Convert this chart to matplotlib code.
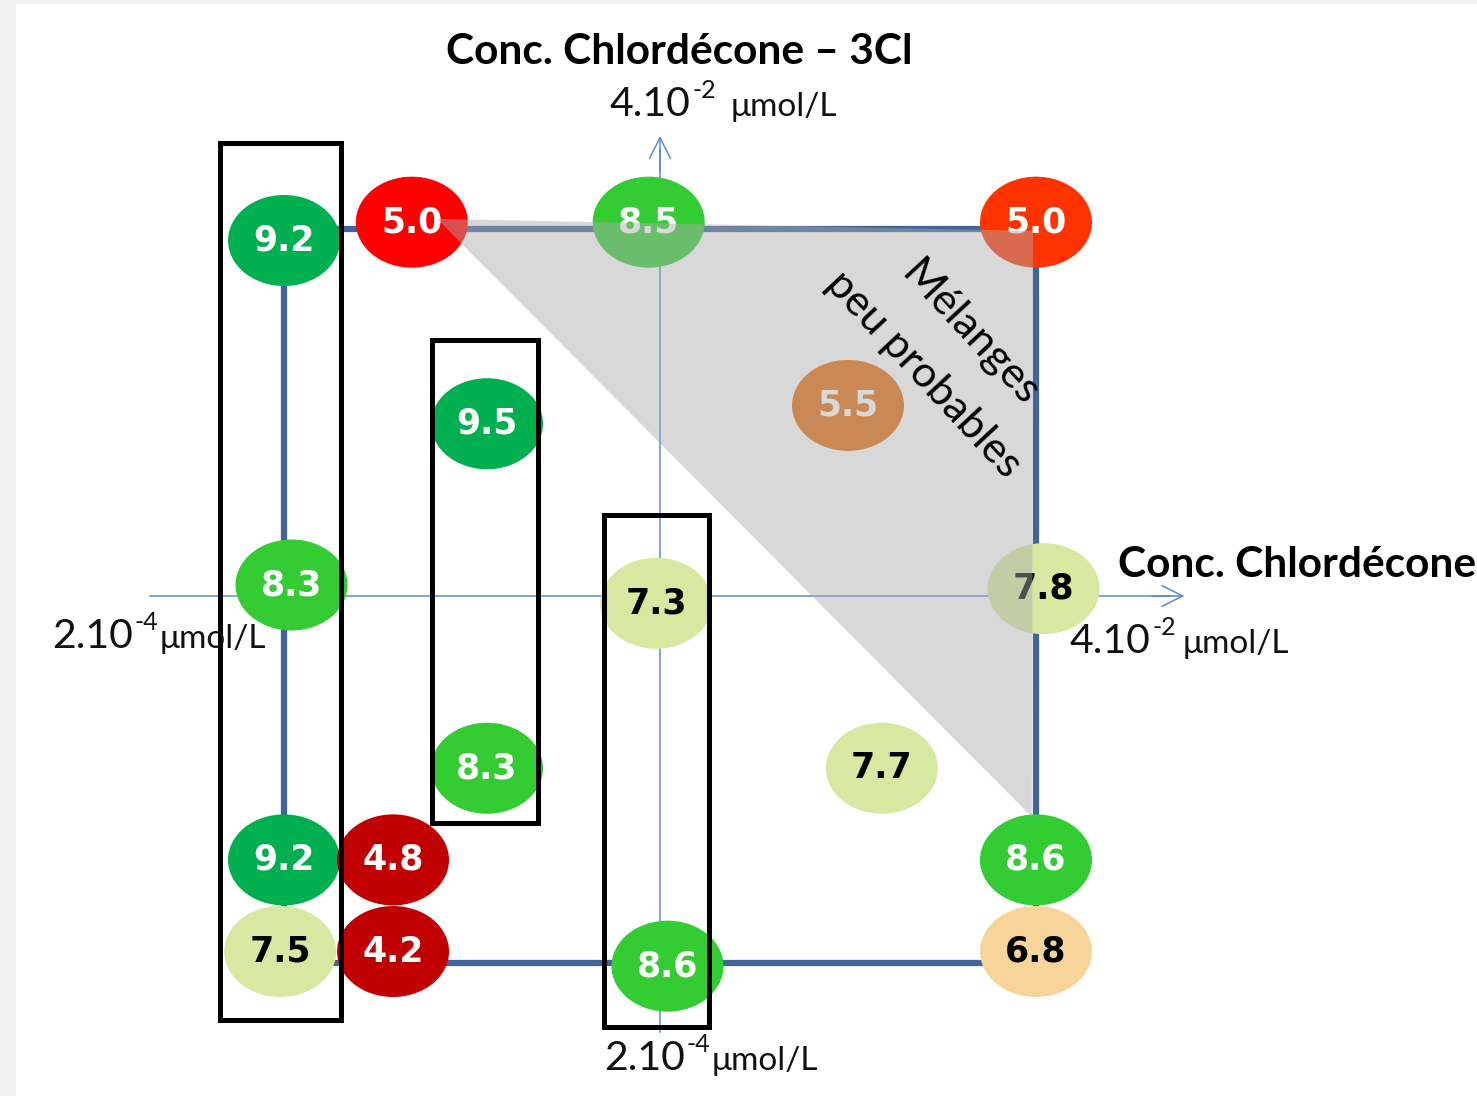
import matplotlib.pyplot as plt
from matplotlib.patches import Ellipse, Rectangle, Polygon

W, H = 1477, 1096

# design points, in the normalised concentration square (-1..1 on both axes)
values = [9.2, 5.0, 8.5, 5.0, 9.5, 5.5, 8.3, 7.3, 7.8, 8.3, 7.7, 9.2, 4.8, 8.6, 7.5, 4.2, 8.6, 6.8]
point_x = [-1.00, -0.66, -0.03, 1.00, -0.46, 0.50, -0.98, -0.01, 1.02, -0.46, 0.59,
           -1.00, -0.71, 1.00, -1.01, -0.71, 0.02, 1.00]
point_y = [0.97, 1.02, 1.02, 1.02, 0.47, 0.52, 0.03, -0.02, 0.02, -0.47, -0.47,
           -0.72, -0.72, -0.72, -0.97, -0.97, -1.01, -0.97]
point_colors = ["#00B050", "#FF0000", "#33CC33", "#FF3300", "#00B050", "#E46C0A",
                "#33CC33", "#D8E8A0", "#D8E8A0", "#33CC33", "#D8E8A0", "#00B050",
                "#C00000", "#33CC33", "#D8E8A0", "#C00000", "#33CC33", "#F7D49A"]
dark_text = ["#D8E8A0", "#F7D49A"]

# grouping boxes (x0, x1, y0, y1)
boxes = [(-1.170, -0.848, -1.157, 1.236),
         (-0.606, -0.324, -0.619, 0.698),
         (-0.149, 0.130, -1.176, 0.221)]

# "unlikely mixtures" zone
zone = [(-0.593, 1.029), (0.992, 0.996), (0.989, -0.603)]

# pixel mapping of the square: x -> 660 + 376*x, y -> 596 - 366.5*y
sx, sy = 376.0, 366.5
x0, y0 = 660.0, 596.0

FONT = ["Lato", "DejaVu Sans"]

fig = plt.figure(figsize=(W / 100, H / 100), dpi=100)
fig.patch.set_facecolor("#F0F0F0")
fig.patches.append(Rectangle((16 / W, 0), 1 - 16 / W, 1 - 4 / H, transform=fig.transFigure,
                             facecolor="white", edgecolor="none", zorder=-10))

ax = fig.add_axes([0, 0, 1, 1])
ax.patch.set_visible(False)
ax.set_xlim(-x0 / sx, (W - x0) / sx)
ax.set_ylim((y0 - H) / sy, y0 / sy)
ax.axis("off")

# thin concentration axes with open arrow heads
ax.plot([-1.356, 1.36], [0, 0], color="#5A8CD2", lw=1.1, zorder=1)
ax.plot([0, 0], [-1.19, 1.22], color="#5A8CD2", lw=1.1, zorder=1)
ax.annotate("", xy=(1.402, 0), xytext=(1.30, 0),
            arrowprops=dict(arrowstyle="->,head_length=1.5,head_width=0.75", color="#5A8CD2", lw=1.1))
ax.annotate("", xy=(0, 1.263), xytext=(0, 1.15),
            arrowprops=dict(arrowstyle="->,head_length=1.5,head_width=0.75", color="#5A8CD2", lw=1.1))

# square of the design
ax.add_patch(Rectangle((-1, -1), 2, 2, fill=False, edgecolor="#41649A", lw=4.5, zorder=1.5))

for v, px, py, c in zip(values, point_x, point_y, point_colors):
    ax.add_patch(Ellipse((px, py), 112 / sx, 91 / sy, facecolor=c, edgecolor="none", zorder=2))
    tc = "black" if c in dark_text else "white"
    ax.text(px, py, f"{v:.1f}", ha="center", va="center", color=tc, fontsize=25,
            fontweight="bold", family="DejaVu Sans", zorder=2.5)

ax.add_patch(Polygon(zone, closed=True, facecolor=(0.678, 0.674, 0.678), alpha=0.46,
                     edgecolor="none", zorder=3))

for bx0, bx1, by0, by1 in boxes:
    ax.add_patch(Rectangle((bx0, by0), bx1 - bx0, by1 - by0, fill=False,
                           edgecolor="black", lw=3.6, zorder=4))


def fx(px):
    return px / W


def fy(py):
    return 1 - py / H


def power_label(px, base, mant, exp, unit, gap=6):
    r = fig.canvas.get_renderer()
    t1 = fig.text(fx(px), fy(base), mant, fontsize=29.5, family=FONT, va="baseline", color="#111111")
    bb = t1.get_window_extent(r)
    t2 = fig.text((bb.x1 + 2) / W, fy(base - 18), exp, fontsize=18, family=FONT,
                  va="baseline", color="#111111")
    bb2 = t2.get_window_extent(r)
    fig.text((bb2.x1 + gap) / W, fy(base), unit, fontsize=24, family=FONT,
             va="baseline", color="#111111")


fig.text(fx(679), fy(64), "Conc. Chlordécone \u2013 3Cl", ha="center", va="baseline",
         fontsize=30.5, fontweight="bold", family=FONT)
fig.text(fx(1118), fy(577), "Conc. Chlordécone", ha="left", va="baseline",
         fontsize=30.5, fontweight="bold", family=FONT)

power_label(610, 116, "4.10", "-2", "\u03bcmol/L", gap=14)
power_label(1070, 653, "4.10", "-2", "\u03bcmol/L", gap=6)
power_label(52, 648, "2.10", "-4", "\u03bcmol/L", gap=1)
power_label(604, 1070, "2.10", "-4", "\u03bcmol/L", gap=1)

ax.text(0.823, 0.716, "Mélanges", rotation=-47, rotation_mode="anchor", ha="center",
        va="center", fontsize=31, family=FONT, zorder=5)
ax.text(0.702, 0.604, "peu probables", rotation=-47, rotation_mode="anchor", ha="center",
        va="center", fontsize=31, family=FONT, zorder=5)

fig.savefig("out.png", dpi=100)
